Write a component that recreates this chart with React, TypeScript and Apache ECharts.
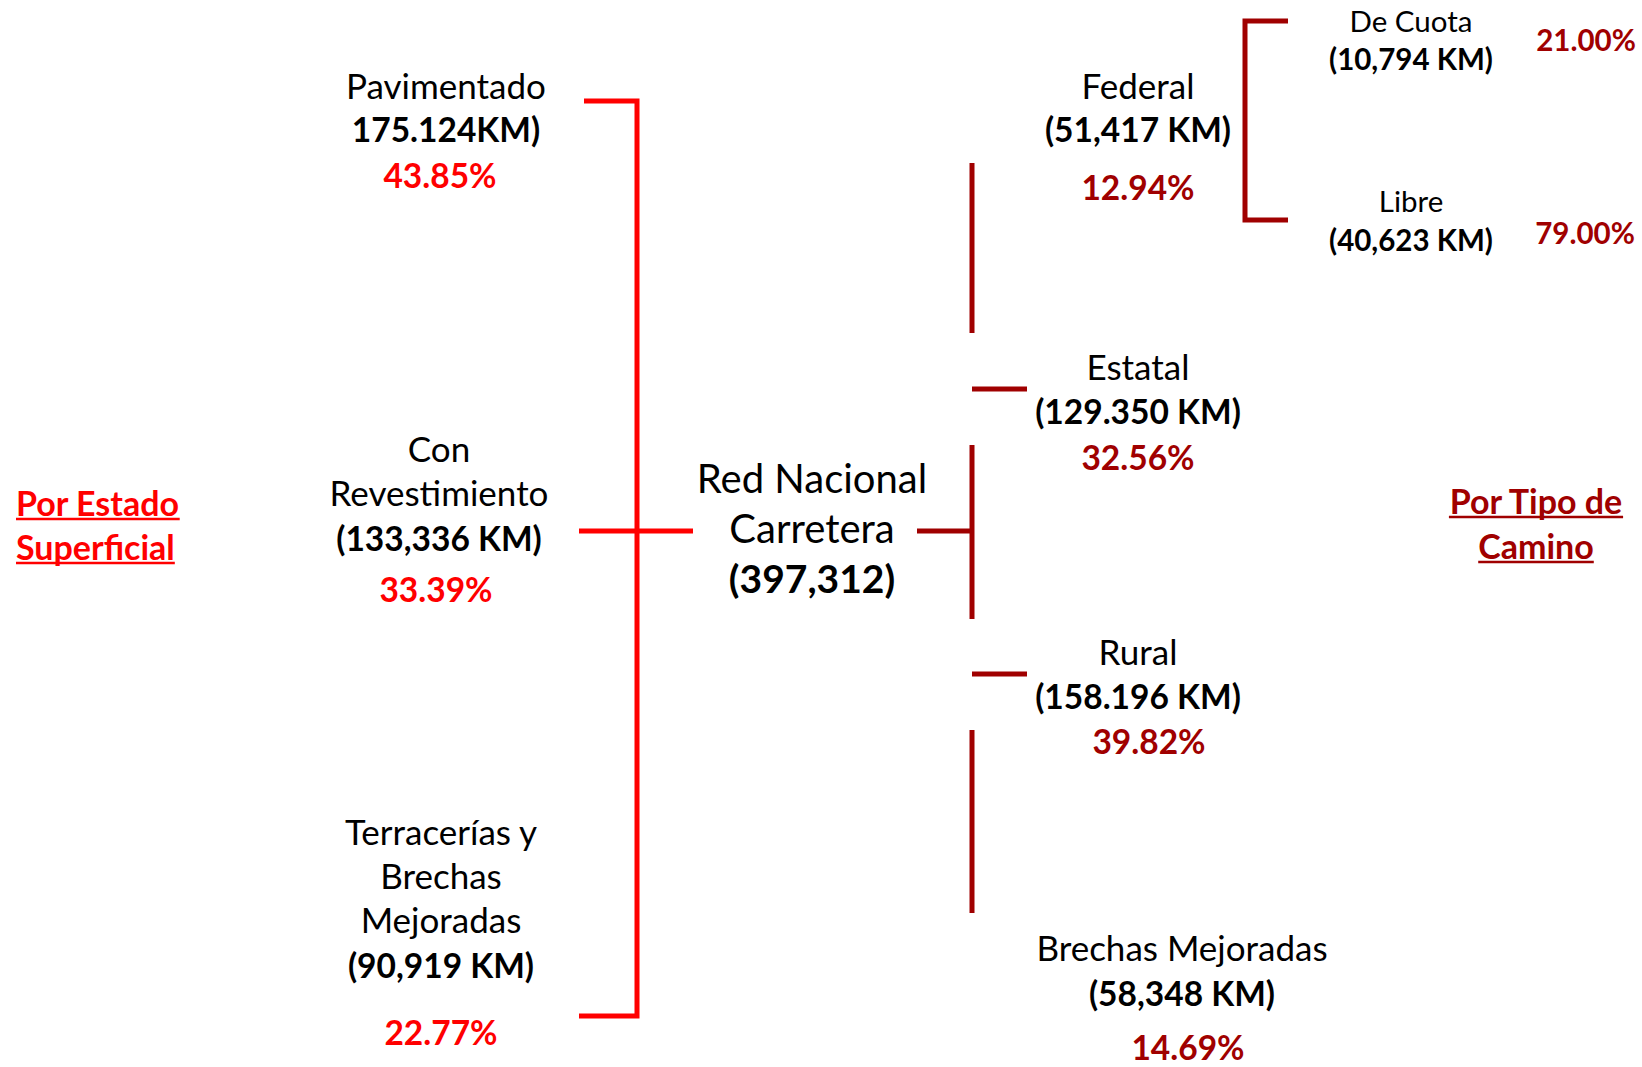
import React, { useEffect, useRef } from "react";
import * as echarts from "echarts";

// ---------- data ----------
const totalLabel = ["Red Nacional", "Carretera"];
const totalKm = "(397,312)";

const surfaceTitle = ["Por Estado", "Superficial"];
const surfaceNames = [["Pavimentado"], ["Con", "Revestimiento"], ["Terracerías y", "Brechas", "Mejoradas"]];
const surfaceKm = ["175.124KM)", "(133,336 KM)", "(90,919 KM)"];
const surfacePct = ["43.85%", "33.39%", "22.77%"];

const typeTitle = ["Por Tipo de", "Camino"];
const typeNames = ["Federal", "Estatal", "Rural", "Brechas Mejoradas"];
const typeKm = ["(51,417 KM)", "(129.350 KM)", "(158.196 KM)", "(58,348 KM)"];
const typePct = ["12.94%", "32.56%", "39.82%", "14.69%"];

const federalNames = ["De Cuota", "Libre"];
const federalKm = ["(10,794 KM)", "(40,623 KM)"];
const federalPct = ["21.00%", "79.00%"];

// ---------- layout (positions only) ----------
const FONT_FAMILY = "Lato, 'Open Sans', sans-serif";
const RED = "#FF0000";
const DARK = "#A00000";
const BLACK = "#000000";
const DY = -1.5;

const surfaceLayout = [
  { cx: 446, nameY: 86, kmY: 130, pctX: 440, pctY: 176 },
  { cx: 439, nameY: 449, kmY: 539, pctX: 436, pctY: 590 },
  { cx: 441, nameY: 832, kmY: 966, pctX: 441, pctY: 1033 },
];
const surfaceLineH = 44;

const typeLayout = [
  { cx: 1138, nameY: 86, kmY: 130, pctX: 1138, pctY: 188 },
  { cx: 1138, nameY: 367, kmY: 412, pctX: 1138, pctY: 458 },
  { cx: 1138, nameY: 652, kmY: 697, pctX: 1149, pctY: 742 },
  { cx: 1182, nameY: 948, kmY: 994, pctX: 1188, pctY: 1048 },
];

const federalLayout = [
  { cx: 1411, nameY: 22, kmY: 60, pctX: 1586, pctY: 41 },
  { cx: 1411, nameY: 202, kmY: 241, pctX: 1585, pctY: 234 },
];

function measure(text: string, font: string): number {
  const ctx = document.createElement("canvas").getContext("2d");
  if (!ctx) return text.length * 18;
  ctx.font = font;
  return ctx.measureText(text).width;
}

function txt(text: string, x: number, y: number, size: number, bold: boolean, color: string, align: string = "center") {
  return {
    type: "text",
    silent: true,
    style: {
      text,
      x,
      y: y + DY,
      fill: color,
      fontSize: size,
      fontFamily: FONT_FAMILY,
      fontWeight: bold ? "bold" : "normal",
      align,
      verticalAlign: "middle",
      textAlign: align,
      textVerticalAlign: "middle",
    },
  };
}

function seg(x1: number, y1: number, x2: number, y2: number, color: string, w: number) {
  return {
    type: "line",
    silent: true,
    shape: { x1, y1, x2, y2 },
    style: { stroke: color, lineWidth: w, lineCap: "butt" },
  };
}

function poly(points: number[][], color: string, w: number) {
  return {
    type: "polyline",
    silent: true,
    shape: { points },
    style: { stroke: color, lineWidth: w, lineJoin: "miter", fill: null },
  };
}

function buildGraphics() {
  const els: any[] = [];
  const REG = 35;
  const BOLD = 33.5;
  const SMALL_REG = 29.5;
  const SMALL_BOLD = 29.5;

  // titles with underline
  const TITLE = 34;
  const titleFont = `bold ${TITLE}px ${FONT_FAMILY}`;
  const leftTitleY = [504, 548];
  surfaceTitle.forEach((t, i) => {
    els.push(txt(t, 16, leftTitleY[i], TITLE, true, RED, "left"));
    const w = measure(t, titleFont);
    els.push(seg(16, leftTitleY[i] + 15, 16 + w, leftTitleY[i] + 15, RED, 2.5));
  });
  const rightTitleY = [502, 547];
  typeTitle.forEach((t, i) => {
    els.push(txt(t, 1536, rightTitleY[i], TITLE, true, DARK, "center"));
    const w = measure(t, titleFont);
    els.push(seg(1536 - w / 2, rightTitleY[i] + 15, 1536 + w / 2, rightTitleY[i] + 15, DARK, 2.5));
  });

  // center
  els.push(txt(totalLabel[0], 812, 479, 40, false, BLACK));
  els.push(txt(totalLabel[1], 812, 529, 40, false, BLACK));
  els.push(txt(totalKm, 812, 579, 39, true, BLACK));

  // surface column
  surfaceNames.forEach((lines, i) => {
    const L = surfaceLayout[i];
    lines.forEach((ln, j) => els.push(txt(ln, L.cx, L.nameY + j * surfaceLineH, REG, false, BLACK)));
    els.push(txt(surfaceKm[i], L.cx, L.kmY, BOLD, true, BLACK));
    els.push(txt(surfacePct[i], L.pctX, L.pctY, BOLD, true, RED));
  });

  // road type column
  typeNames.forEach((n, i) => {
    const L = typeLayout[i];
    els.push(txt(n, L.cx, L.nameY, REG, false, BLACK));
    els.push(txt(typeKm[i], L.cx, L.kmY, BOLD, true, BLACK));
    els.push(txt(typePct[i], L.pctX, L.pctY, BOLD, true, DARK));
  });

  // federal breakdown
  federalNames.forEach((n, i) => {
    const L = federalLayout[i];
    els.push(txt(n, L.cx, L.nameY, SMALL_REG, false, BLACK));
    els.push(txt(federalKm[i], L.cx, L.kmY, SMALL_BOLD, true, BLACK));
    els.push(txt(federalPct[i], L.pctX, L.pctY, SMALL_BOLD, true, DARK));
  });

  // left bracket (red)
  els.push(poly([[584, 101], [637, 101], [637, 1016], [579, 1016]], RED, 5));
  els.push(seg(579, 531, 693, 531, RED, 5));

  // right bracket (dark red)
  els.push(seg(917, 531, 974, 531, DARK, 5));
  els.push(seg(972, 163, 972, 333, DARK, 5));
  els.push(seg(972, 389, 1027, 389, DARK, 5));
  els.push(seg(972, 445, 972, 619, DARK, 5));
  els.push(seg(972, 674, 1027, 674, DARK, 5));
  els.push(seg(972, 730, 972, 913, DARK, 5));

  // federal bracket
  els.push(poly([[1288, 21], [1245, 21], [1245, 220], [1288, 220]], DARK, 5));

  return els;
}

export default function App() {
  const ref = useRef<HTMLDivElement>(null);
  useEffect(() => {
    if (!ref.current) return;
    const chart = echarts.init(ref.current, undefined, { renderer: "svg" });
    chart.setOption({
      animation: false,
      backgroundColor: "#FFFFFF",
      graphic: { elements: buildGraphics() },
    });
    return () => chart.dispose();
  }, []);
  return (
    <div
      ref={ref}
      style={{ position: "absolute", left: 0, top: 0, width: 1642, height: 1067, background: "#fff" }}
    />
  );
}
